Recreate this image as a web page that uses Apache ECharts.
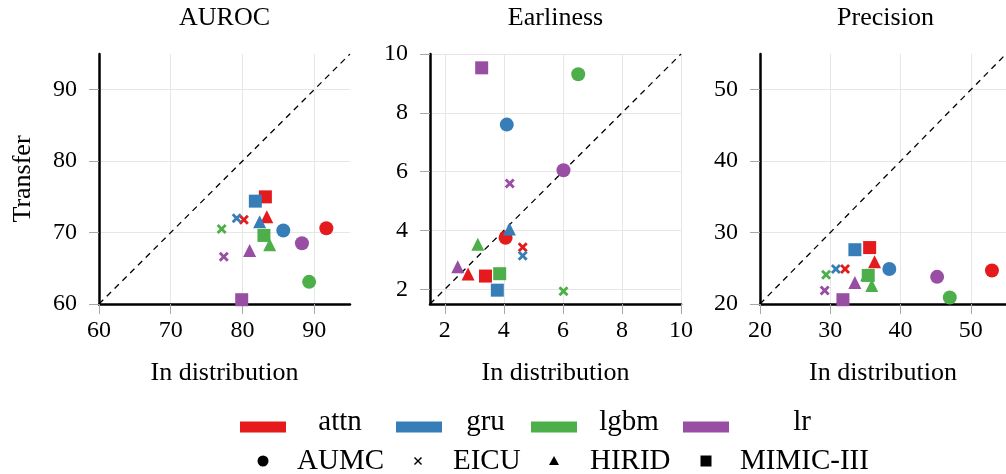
<!DOCTYPE html>
<html>
<head>
<meta charset="utf-8">
<script src="https://cdn.jsdelivr.net/npm/echarts@6/dist/echarts.min.js"></script>
<style>
  html, body { margin: 0; padding: 0; background: #fff; }
  #chart { width: 1006px; height: 474px; }
</style>
</head>
<body>
<div id="chart"></div>
<script>
// Models (colour) and datasets (marker shape)
const models = ['attn', 'gru', 'lgbm', 'lr'];
const datasets = ['AUMC', 'EICU', 'HIRID', 'MIMIC-III'];
const panelTitles = ['AUROC', 'Earliness', 'Precision'];

// Each pair: [in distribution, transfer], datasets in order AUMC, EICU, HIRID, MIMIC-III
const aurocAttn = [[91.7, 70.6], [80.2, 71.8], [83.4, 72.2], [83.2, 75.0]];
const aurocGru  = [[85.7, 70.3], [79.2, 72.0], [82.4, 71.5], [81.8, 74.4]];
const aurocLgbm = [[89.3, 63.1], [77.1, 70.5], [83.8, 68.3], [83.0, 69.6]];
const aurocLr   = [[88.3, 68.5], [77.4, 66.6], [81.0, 67.5], [79.9, 60.6]];

const earlinessAttn = [[4.06, 3.75], [4.64, 3.43], [2.79, 2.52], [3.38, 2.45]];
const earlinessGru  = [[4.10, 7.60], [4.64, 3.14], [4.19, 4.05], [3.78, 1.97]];
const earlinessLgbm = [[6.52, 9.31], [6.02, 1.93], [3.12, 3.53], [3.86, 2.53]];
const earlinessLr   = [[6.02, 6.05], [4.20, 5.60], [2.44, 2.77], [3.25, 9.53]];

const precisionAttn = [[53.0, 24.7], [32.1, 24.9], [36.3, 25.9], [35.6, 27.9]];
const precisionGru  = [[38.4, 24.9], [30.8, 24.9], [35.2, 24.1], [33.5, 27.6]];
const precisionLgbm = [[47.0, 20.9], [29.4, 24.1], [35.9, 22.6], [35.4, 24.0]];
const precisionLr   = [[45.2, 23.8], [29.2, 21.9], [33.5, 23.0], [31.8, 20.6]];

// Axis extents and tick labels per panel (same for x and y)
const axisMin = [60, 1.5, 20];
const axisMax = [95, 10, 55];
const aurocTicks = [60, 70, 80, 90];
const earlinessTicks = [2, 4, 6, 8, 10];
const precisionTicks = [20, 30, 40, 50];

const panelData = [
  [aurocAttn, aurocGru, aurocLgbm, aurocLr],
  [earlinessAttn, earlinessGru, earlinessLgbm, earlinessLr],
  [precisionAttn, precisionGru, precisionLgbm, precisionLr]
];
const panelTicks = [aurocTicks, earlinessTicks, precisionTicks];

// Styling
const FONT = 'Liberation Serif';
const modelColors = ['#e41a1c', '#377eb8', '#4daf4a', '#984ea3'];
const crossPath = 'path://M0,2 L2,0 L5,3 L8,0 L10,2 L7,5 L10,8 L8,10 L5,7 L2,10 L0,8 L3,5 Z';
const datasetSymbols = ['circle', crossPath, 'triangle', 'rect'];
const datasetSizes = [14, 10, 13, 13];

const gridLeft = [99, 430, 760];
const gridTop = 54;
const gridW = 251;
const gridH = 250;

const grids = [], xAxes = [], yAxes = [], series = [], graphics = [];

for (let p = 0; p < 3; p++) {
  grids.push({ left: gridLeft[p], top: gridTop, width: gridW, height: gridH, containLabel: false });

  const common = {
    gridIndex: p,
    type: 'value',
    min: axisMin[p],
    max: axisMax[p],
    axisLine: { show: true, onZero: false, lineStyle: { color: '#000', width: 2.5 } },
    axisTick: { show: true, length: 10, lineStyle: { color: '#a8a8a8', width: 1 }, customValues: panelTicks[p] },
    axisLabel: { customValues: panelTicks[p], fontFamily: FONT, fontSize: 24, color: '#000' },
    splitLine: { show: true, lineStyle: { color: '#e6e6e6', width: 1 } }
  };

  xAxes.push(Object.assign({}, common, {
    axisLabel: Object.assign({}, common.axisLabel, { margin: 15 }),
    name: 'In distribution',
    nameLocation: 'middle',
    nameGap: 56,
    nameTextStyle: { fontFamily: FONT, fontSize: 26, color: '#000' }
  }));

  yAxes.push(Object.assign({}, common, {
    axisLabel: Object.assign({}, common.axisLabel, { margin: 22 }),
    name: p === 0 ? 'Transfer' : '',
    nameLocation: 'middle',
    nameGap: 63,
    nameTextStyle: { fontFamily: FONT, fontSize: 26, color: '#000' }
  }));

  // identity reference line
  series.push({
    type: 'line',
    xAxisIndex: p, yAxisIndex: p,
    data: [[axisMin[p], axisMin[p]], [axisMax[p], axisMax[p]]],
    symbol: 'none',
    silent: true,
    z: 1,
    lineStyle: { color: '#000', width: 1.3, type: [6, 5] }
  });

  for (let m = 0; m < models.length; m++) {
    series.push({
      type: 'scatter',
      name: models[m],
      xAxisIndex: p, yAxisIndex: p,
      z: 3,
      itemStyle: { color: modelColors[m], opacity: 1 },
      data: panelData[p][m].map((v, i) => ({
        value: v,
        name: datasets[i],
        symbol: datasetSymbols[i],
        symbolSize: datasetSizes[i]
      }))
    });
  }

  // panel title
  graphics.push({
    type: 'text',
    x: gridLeft[p] + gridW / 2,
    y: 18,
    style: { text: panelTitles[p], font: '26px "' + FONT + '"', fill: '#000', align: 'center', verticalAlign: 'middle' }
  });
}

// Legend row 1: model colours
const modelPatchX = [240, 396, 531, 683];
const modelTextX = [340, 485.5, 629, 802];
models.forEach((name, m) => {
  graphics.push({
    type: 'rect',
    shape: { x: modelPatchX[m], y: 421.5, width: 46, height: 11 },
    style: { fill: modelColors[m] }
  });
  graphics.push({
    type: 'text',
    x: modelTextX[m], y: 422,
    style: { text: name, font: '29px "' + FONT + '"', fill: '#000', align: 'center', verticalAlign: 'middle' }
  });
});

// Legend row 2: dataset markers
const markerX = [263, 418, 554, 706];
const datasetTextX = [297, 453, 590, 740];
const rowY = 461;
graphics.push({ type: 'circle', shape: { cx: markerX[0], cy: rowY, r: 5.5 }, style: { fill: '#000' } });
graphics.push({ type: 'line', shape: { x1: markerX[1] - 3.5, y1: rowY - 3.5, x2: markerX[1] + 3.5, y2: rowY + 3.5 }, style: { stroke: '#000', lineWidth: 1.4 } });
graphics.push({ type: 'line', shape: { x1: markerX[1] - 3.5, y1: rowY + 3.5, x2: markerX[1] + 3.5, y2: rowY - 3.5 }, style: { stroke: '#000', lineWidth: 1.4 } });
graphics.push({ type: 'polygon', shape: { points: [[markerX[2], rowY - 5], [markerX[2] + 5, rowY + 4], [markerX[2] - 5, rowY + 4]] }, style: { fill: '#000' } });
graphics.push({ type: 'rect', shape: { x: markerX[3] - 5.5, y: rowY - 5.5, width: 11, height: 11 }, style: { fill: '#000' } });
datasets.forEach((name, i) => {
  graphics.push({
    type: 'text',
    x: datasetTextX[i], y: 461,
    style: { text: name, font: '29px "' + FONT + '"', fill: '#000', align: 'left', verticalAlign: 'middle' }
  });
});

const chart = echarts.init(document.getElementById('chart'), null, { renderer: 'canvas' });
chart.setOption({
  animation: false,
  backgroundColor: '#fff',
  grid: grids,
  xAxis: xAxes,
  yAxis: yAxes,
  series: series,
  graphic: graphics
});
</script>
</body>
</html>
